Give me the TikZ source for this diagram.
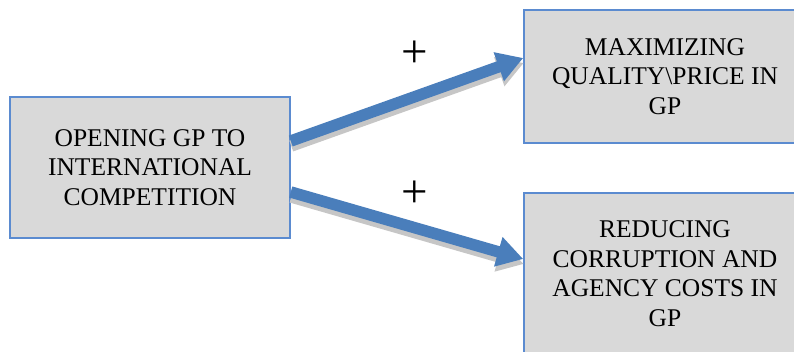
\documentclass[tikz,border=0pt]{standalone}
\usepackage{fontspec}
\setmainfont{Liberation Serif}
\usetikzlibrary{arrows.meta,positioning}

\definecolor{boxfill}{HTML}{D9D9D9}
\definecolor{boxline}{HTML}{5B8BD0}
\definecolor{linkblue}{HTML}{4A7EBB}

\tikzset{
  factor/.style={draw=boxline, line width=1.5pt, fill=boxfill, align=center,
                 inner sep=0pt, font=\fontsize{25.5}{29.5}\selectfont},
  link/.style={draw=linkblue, line width=11.5pt,
               -{Triangle[length=26pt,width=29pt]}},
  linkshadow/.style={draw=gray!45, line width=11.5pt,
               -{Triangle[length=26pt,width=29pt]},
               transform canvas={xshift=0.5pt,yshift=-5pt}},
  sign/.style={font=\fontsize{47}{47}\selectfont, inner sep=0pt}
}

\begin{document}
\begin{tikzpicture}[x=1pt,y=-1pt]
  \useasboundingbox (0,0) rectangle (794,351);
  \node[factor, minimum width=280pt, minimum height=141pt] (opening)    at (150,167.5)
       {OPENING GP TO\\INTERNATIONAL\\COMPETITION};
  \node[factor, minimum width=282pt, minimum height=133pt] (quality)    at (665,76.5)
       {MAXIMIZING\\QUALITY\textbackslash PRICE IN\\GP};
  \node[factor, minimum width=282pt, minimum height=161pt] (corruption) at (665,273.5)
       {REDUCING\\CORRUPTION AND\\AGENCY COSTS IN\\GP};
  \node[sign] (plus up)   at (415,54)  {+};
  \node[sign] (plus down) at (415,194) {+};
  % shadows first, then the arrows
  \draw[linkshadow] ([yshift=26.5pt]opening.east) -- ([yshift=18.5pt]quality.west);
  \draw[linkshadow] ([yshift=-24.5pt]opening.east) -- ([yshift=14.5pt]corruption.west);
  \draw[link] ([yshift=26.5pt]opening.east) -- ([yshift=18.5pt]quality.west);
  \draw[link] ([yshift=-24.5pt]opening.east) -- ([yshift=14.5pt]corruption.west);
\end{tikzpicture}
\end{document}
